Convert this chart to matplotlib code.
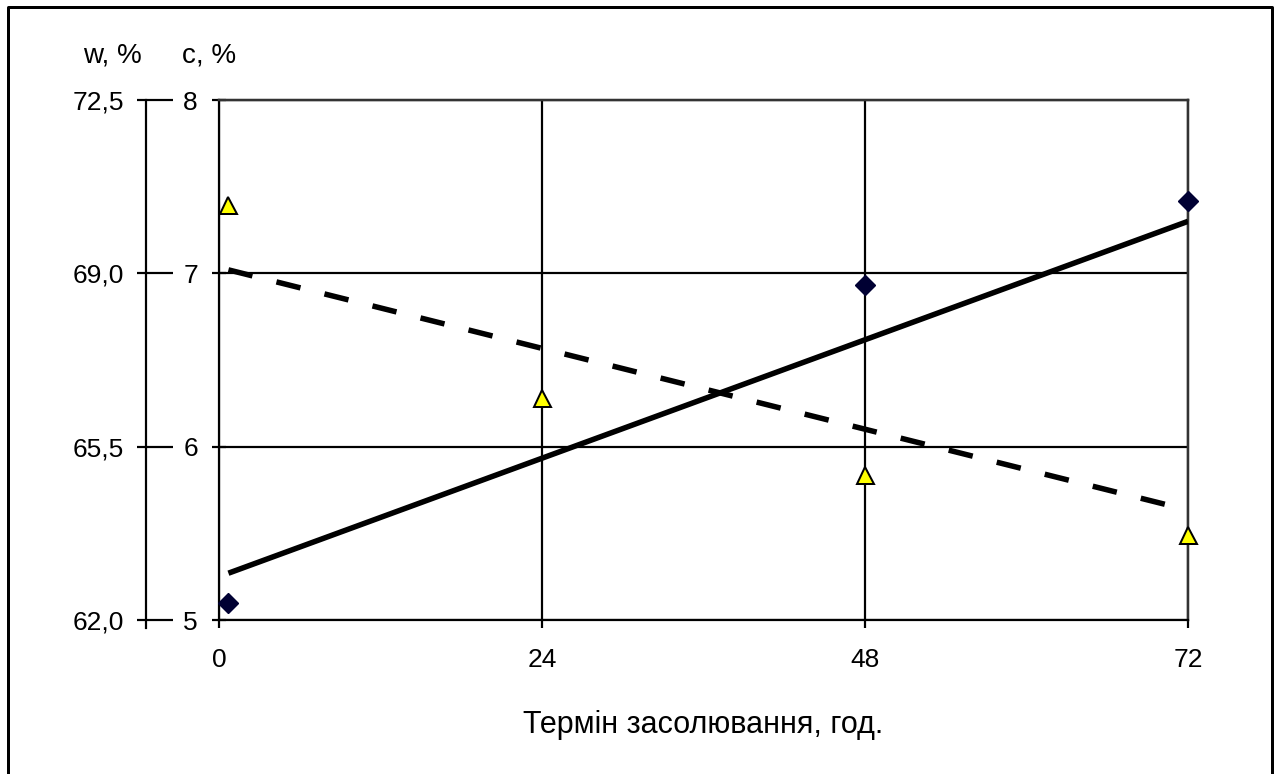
import matplotlib
matplotlib.use("Agg")
import matplotlib.pyplot as plt

# salt content c, % (diamonds) and moisture w, % (triangles) vs salting time
c_hours = [0.7, 48, 72]
c_vals = [5.10, 6.93, 7.42]
w_hours = [0.7, 24, 48, 72]
w_vals = [70.38, 66.48, 64.93, 63.72]

# trend lines, read at the start and end of the range
trend_hours = [0.7, 72]
c_trend = [5.27, 7.30]
w_trend = [69.07, 64.22]

x_ticks = [0, 24, 48, 72]
c_ticks = [5, 6, 7, 8]
c_labels = ["5", "6", "7", "8"]
w_ticks = [62.0, 65.5, 69.0, 72.5]
w_labels = ["62,0", "65,5", "69,0", "72,5"]

plt.rcParams['font.family'] = ['Liberation Sans', 'DejaVu Sans']
FS = 19
PX = 0.72  # one pixel in points at dpi 100

fig = plt.figure(figsize=(12.78, 7.74), dpi=100)
W, H = 1278, 774

# outer frame (left, top, right)
fig.add_artist(plt.Line2D([8 / W, 8 / W, 1272 / W, 1272 / W],
                          [0, 1 - 7 / H, 1 - 7 / H, 0],
                          transform=fig.transFigure, color='black', lw=3 * PX))

ax = fig.add_axes([219 / W, 1 - 620 / H, (1188 - 219) / W, 520 / H])
ax.set_xlim(0, 72)
ax.set_ylim(5, 8)
ax.set_xticks(x_ticks)
ax.set_xticklabels([str(v) for v in x_ticks])
ax.set_yticks(c_ticks)
ax.set_yticklabels(c_labels)
ax.grid(True, color='black', lw=2.2 * PX)
ax.set_axisbelow(True)
for s in ['left', 'bottom']:
    ax.spines[s].set_color('black')
    ax.spines[s].set_linewidth(2.2 * PX)
for s in ['top', 'right']:
    ax.spines[s].set_color('#333333')
    ax.spines[s].set_linewidth(2.5 * PX)
ax.tick_params(axis='x', direction='out', length=8 * PX, width=2.2 * PX,
               pad=20 * PX, labelsize=FS)
ax.tick_params(axis='y', direction='inout', length=14 * PX, width=2.2 * PX,
               pad=14 * PX, labelsize=FS)
ax.set_xlabel("Термін засолювання, год.", fontsize=22, labelpad=38 * PX)

ax.plot(trend_hours, c_trend, color='black', lw=5.5 * PX, solid_capstyle='butt',
        zorder=3)
ax.plot(c_hours, c_vals, linestyle='none', marker='D', ms=14 * PX,
        color='#000033', mec='#000033', zorder=4, clip_on=False)

ax2 = ax.twinx()
ax2.set_ylim(62, 72.5)
ax2.set_yticks(w_ticks)
ax2.set_yticklabels(w_labels)
ax2.yaxis.set_ticks_position('left')
ax2.yaxis.set_label_position('left')
for s in ['top', 'bottom', 'right']:
    ax2.spines[s].set_visible(False)
ax2.spines['left'].set_visible(True)
ax2.spines['left'].set_position(('outward', 73 * PX))
ax2.spines['left'].set_color('black')
ax2.spines['left'].set_linewidth(2.2 * PX)
ax2.spines['left'].set_bounds(61.84, 72.5)
ax2.yaxis.remove_overlapping_locs = False
ax2.set_yticks(w_ticks, minor=True)
ax2.tick_params(axis='y', which='major', direction='in', length=27 * PX,
                width=2.2 * PX, pad=22 * PX, labelsize=FS)
ax2.tick_params(axis='y', which='minor', direction='out', length=9 * PX,
                width=2.2 * PX, labelleft=False)

ax2.plot(trend_hours, w_trend, color='black', lw=5.5 * PX,
         dashes=(4.5, 4.5), dash_capstyle='butt', zorder=3)
ax2.plot(w_hours, w_vals, linestyle='none', marker='^', ms=17 * PX,
         color='#ffff00', mec='black', mew=2 * PX, zorder=4, clip_on=False)

fig.text(112 / W, 1 - 55 / H, "w, %", fontsize=20, ha='center', va='center')
fig.text(209 / W, 1 - 55 / H, "c, %", fontsize=20, ha='center', va='center')

fig.savefig("out.png", dpi=100)
